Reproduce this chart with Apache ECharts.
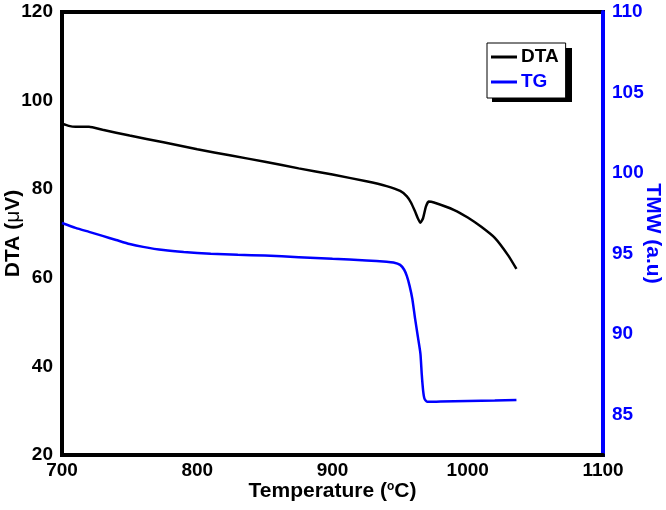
<!DOCTYPE html>
<html><head><meta charset="utf-8">
<script src="https://cdn.jsdelivr.net/npm/echarts@6/dist/echarts.min.js"></script>
<style>html,body{margin:0;padding:0;background:#fff}#c{width:666px;height:510px}</style>
</head><body><div id="c"></div>
<script>
// DTA curve (temperature °C, µV)
var dtaTemp = [700,705,710,720,730,750,775,800,825,850,875,900,925,940,950,955,958,961,963,965,967,969,971,975,990,1000,1010,1020,1030,1036];
var dtaVal  = [94.8,94.3,94.1,94.1,93.4,92.1,90.6,89.0,87.6,86.2,84.7,83.3,81.8,80.7,79.6,78.4,77.0,75.0,73.5,72.4,73.5,76.0,77.2,77.0,75.3,73.6,71.5,69.0,65.0,62.0];
// TG curve (temperature °C, TMW a.u)
var tgTemp = [700,710,720,730,740,750,760,775,790,810,830,850,875,900,925,940,945,950,953,955,957,959,961,963,965,966,967,968,970,980,1000,1020,1036];
var tgVal  = [96.9,96.6,96.35,96.1,95.85,95.6,95.42,95.22,95.1,95.0,94.93,94.88,94.78,94.68,94.58,94.5,94.45,94.3,94.0,93.6,93.0,92.2,91.0,89.9,88.8,87.5,86.5,86.0,85.8,85.82,85.85,85.88,85.92];
var xTicks = [700,800,900,1000,1100];
var leftTicks = [20,40,60,80,100,120];
var rightTicks = [85,90,95,100,105,110];

function pairs(xs, ys){ return xs.map(function(x,i){ return [x, ys[i]]; }); }
function plain(v){ return String(v); }
var FONT = 'Liberation Sans';
var chart = echarts.init(document.getElementById('c'));
chart.setOption({
  animation: false,
  backgroundColor: '#fff',
  grid: { left: 62, right: 63, top: 12, bottom: 55, containLabel: false, outerBoundsMode: 'none',
          show: true, borderColor: '#000', borderWidth: 4, backgroundColor: 'transparent' },
  graphic: [
    { type: 'rect', left: 492, top: 48, shape: { width: 80, height: 54 }, style: { fill: '#000' }, z: 1, silent: true }
  ],
  legend: {
    orient: 'vertical', left: 487, top: 43, z: 10,
    padding: [4, 7, 6, 4], itemGap: 5,
    itemWidth: 26, itemHeight: 3, icon: 'rect',
    backgroundColor: '#fff', borderColor: '#000', borderWidth: 1,
    textStyle: { fontFamily: FONT, fontWeight: 'bold', fontSize: 19, lineHeight: 19, padding: [1,0,0,-1] },
    data: [ { name: 'DTA', textStyle: { color: '#000' } }, { name: 'TG', textStyle: { color: '#0000ff' } } ]
  },
  xAxis: {
    type: 'value', min: 700, max: 1100, interval: 100,
    name: '{a|Temperature (}{s|o}{a|C)}', nameLocation: 'middle', nameGap: 26, nameMoveOverlap: false,
    nameTextStyle: { rich: {
      a: { fontFamily: FONT, fontWeight: 'bold', fontSize: 21, color: '#000' },
      s: { fontFamily: FONT, fontWeight: 'bold', fontSize: 12, color: '#000', verticalAlign: 'top', padding: [0,0,9,0] }
    } },
    axisLine: { show: true, lineStyle: { color: '#000', width: 4 } },
    axisTick: { show: false }, splitLine: { show: false },
    axisLabel: { color: '#000', fontFamily: FONT, fontWeight: 'bold', fontSize: 19, margin: 6, customValues: xTicks, formatter: plain }
  },
  yAxis: [
    {
      type: 'value', min: 20, max: 120, interval: 20, position: 'left',
      name: '{b|DTA (}{m|\u03bc}{b|V)}', nameLocation: 'middle', nameGap: 38, nameRotate: 90, nameMoveOverlap: false,
      nameTextStyle: { rich: {
        b: { color: '#000', fontFamily: FONT, fontWeight: 'bold', fontSize: 21 },
        m: { color: '#000', fontFamily: FONT, fontWeight: 'normal', fontSize: 21 }
      } },
      axisLine: { show: true, lineStyle: { color: '#000', width: 4 } },
      axisTick: { show: false }, splitLine: { show: false },
      axisLabel: { color: '#000', fontFamily: FONT, fontWeight: 'bold', fontSize: 19, margin: 9, customValues: leftTicks, formatter: plain }
    },
    {
      type: 'value', min: 82.5, max: 110, position: 'right',
      name: 'TMW (a.u)', nameLocation: 'middle', nameGap: 39, nameRotate: -90, nameMoveOverlap: false,
      nameTextStyle: { color: '#0000ff', fontFamily: FONT, fontWeight: 'bold', fontSize: 21 },
      axisLine: { show: true, lineStyle: { color: '#0000ff', width: 4 } },
      axisTick: { show: false }, splitLine: { show: false },
      axisLabel: { color: '#0000ff', fontFamily: FONT, fontWeight: 'bold', fontSize: 19, margin: 9, customValues: rightTicks, formatter: plain }
    }
  ],
  series: [
    { name: 'DTA', type: 'line', yAxisIndex: 0, data: pairs(dtaTemp, dtaVal), showSymbol: false, smooth: 0.15,
      lineStyle: { color: '#000', width: 2.5 }, itemStyle: { color: '#000' } },
    { name: 'TG', type: 'line', yAxisIndex: 1, data: pairs(tgTemp, tgVal), showSymbol: false, smooth: 0.2,
      lineStyle: { color: '#0000ff', width: 2.5 }, itemStyle: { color: '#0000ff' } }
  ]
});
</script></body></html>
